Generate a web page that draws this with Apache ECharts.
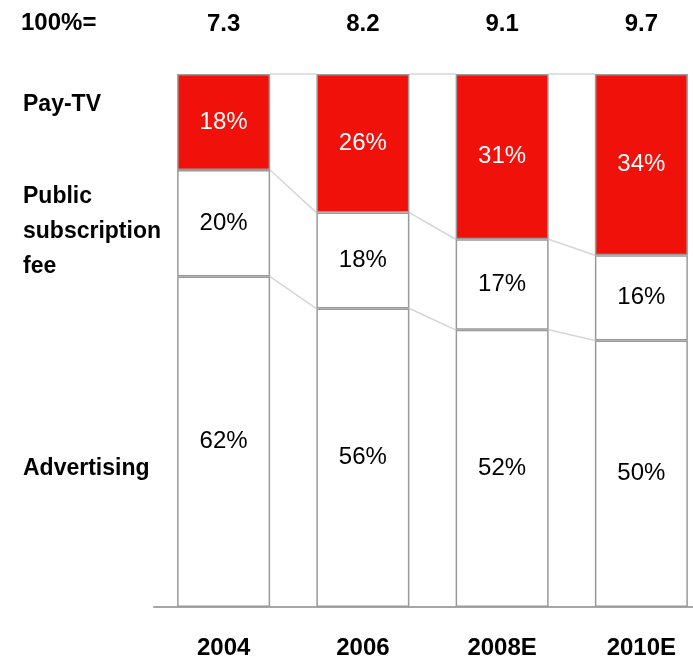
<!DOCTYPE html>
<html>
<head>
<meta charset="utf-8">
<script src="https://cdn.jsdelivr.net/npm/echarts@6/dist/echarts.min.js"></script>
<style>
  html, body { margin: 0; padding: 0; background: #fff; }
  #chart { width: 693px; height: 661px; }
</style>
</head>
<body>
<div id="chart"></div>
<script>
// Revenue mix by source, shares of total (100%)
const years = ['2004', '2006', '2008E', '2010E'];
const totals = ['7.3', '8.2', '9.1', '9.7'];
const advertising = [62, 56, 52, 50];
const publicFee = [20, 18, 17, 16];
const payTV = [18, 26, 31, 34];

const FONT = '"Liberation Sans", Arial, sans-serif';
const RED = '#f0120a';
const BORDER = '#9a9a9a';
const BAR_W = 93;

const chart = echarts.init(document.getElementById('chart'));

// Cumulative boundaries for the connector lines between neighbouring bars
const lowBound = advertising.slice();
const midBound = advertising.map((v, i) => v + publicFee[i]);
const topBound = midBound.map((v, i) => v + payTV[i]);

function connectors(params, api) {
  const i = params.dataIndex;
  if (i >= years.length - 1) return null;
  const half = BAR_W / 2;
  const children = [];
  [topBound, midBound, lowBound].forEach(b => {
    const a = api.coord([i, b[i]]);
    const c = api.coord([i + 1, b[i + 1]]);
    children.push({
      type: 'line',
      shape: { x1: a[0] + half, y1: a[1], x2: c[0] - half, y2: c[1] },
      style: { stroke: '#d6d6d6', lineWidth: 1.5 }
    });
  });
  return { type: 'group', children };
}

const pctLabel = color => ({
  show: true,
  position: 'inside',
  formatter: p => p.value + '%',
  color: color,
  fontFamily: FONT,
  fontSize: 24
});

chart.setOption({
  animation: false,
  grid: { left: 154, width: 557, top: 74, bottom: 54, outerBoundsMode: 'none', containLabel: false },
  xAxis: [
    {
      type: 'category',
      data: years,
      position: 'bottom',
      axisLine: { lineStyle: { color: '#a6a6a6', width: 2 } },
      axisTick: { show: false },
      axisLabel: { color: '#000', fontFamily: FONT, fontWeight: 'bold', fontSize: 24, margin: 29 }
    },
    {
      type: 'category',
      data: totals,
      position: 'top',
      axisLine: { show: false },
      axisTick: { show: false },
      axisLabel: { color: '#000', fontFamily: FONT, fontWeight: 'bold', fontSize: 24, margin: 38 }
    }
  ],
  yAxis: {
    type: 'value',
    min: 0,
    max: 100,
    show: false,
    splitLine: { show: false }
  },
  series: [
    {
      name: 'Advertising',
      type: 'bar',
      stack: 'mix',
      barWidth: BAR_W,
      data: advertising,
      itemStyle: { color: '#fff', borderColor: BORDER, borderWidth: 1.5 },
      label: pctLabel('#000'),
      z: 3
    },
    {
      name: 'Public subscription fee',
      type: 'bar',
      stack: 'mix',
      barWidth: BAR_W,
      data: publicFee,
      itemStyle: { color: '#fff', borderColor: BORDER, borderWidth: 1.5 },
      label: pctLabel('#000'),
      z: 3
    },
    {
      name: 'Pay-TV',
      type: 'bar',
      stack: 'mix',
      barWidth: BAR_W,
      data: payTV,
      itemStyle: { color: RED, borderColor: BORDER, borderWidth: 1.5 },
      label: pctLabel('#fff'),
      z: 3
    },
    {
      type: 'custom',
      renderItem: connectors,
      data: years.map((y, i) => [i, topBound[i]]),
      z: 1,
      silent: true
    }
  ],
  graphic: [
    { type: 'text', left: 21, top: 11, style: { text: '100%=', font: 'bold 24px ' + FONT, fill: '#000' } },
    { type: 'text', left: 23, top: 93, style: { text: 'Pay-TV', font: 'bold 23px ' + FONT, fill: '#000' } },
    { type: 'text', left: 23, top: 179, style: { text: 'Public\nsubscription\nfee', font: 'bold 23px ' + FONT, fill: '#000', lineHeight: 35 } },
    { type: 'text', left: 23, top: 457, style: { text: 'Advertising', font: 'bold 23px ' + FONT, fill: '#000' } }
  ]
});
</script>
</body>
</html>
